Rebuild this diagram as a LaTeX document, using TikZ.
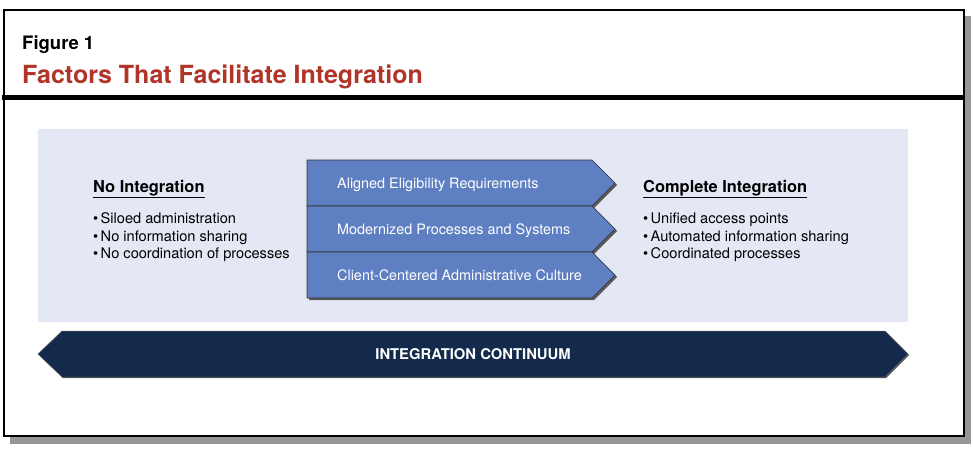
\documentclass[tikz,border=0pt]{standalone}
\usepackage{fontspec}
\setmainfont{TeX Gyre Heros}
\definecolor{titlered}{RGB}{176,52,40}
\definecolor{panelblue}{RGB}{228,232,244}
\definecolor{chevblue}{RGB}{94,127,193}
\definecolor{navy}{RGB}{19,42,76}
\definecolor{shadowgray}{RGB}{150,150,150}
\tikzset{
  txt/.style={anchor=base west, inner sep=0pt, font=\fontsize{14.6}{17}\selectfont},
  headtxt/.style={anchor=base west, inner sep=0pt, font=\bfseries\fontsize{16.4}{19}\selectfont},
  chevtxt/.style={anchor=base west, inner sep=0pt, text=white, font=\fontsize{14.4}{16}\selectfont},
  chev/.style={fill=chevblue, draw=black!80, line width=0.6pt},
  chevshadow/.style={fill=black!65},
}
\begin{document}
\begin{tikzpicture}[x=1pt,y=-1pt]
\useasboundingbox (0,0) rectangle (973,453);
% frame
\fill[shadowgray] (10,16) rectangle (971,444);
\draw[fill=white, line width=1.5pt] (4,10) rectangle (964,436);
\draw[line width=4.5pt] (2,97.5) -- (964,97.5);
% titles
\node[anchor=base west, inner sep=0pt, font=\bfseries\fontsize{18.5}{20}\selectfont] (fig) at (22,49) {Figure 1};
\node[anchor=base west, inner sep=0pt, text=titlered, font=\bfseries\fontsize{25}{28}\selectfont] (title) at (22,83) {Factors That Facilitate Integration};
% panel
\fill[panelblue] (38,129) rectangle (908,322);
% chevron shadows
\foreach \t in {160,206,252}{
  \fill[chevshadow] (309,\t+2) -- (594,\t+2) -- (617,\t+25) -- (594,\t+48) -- (309,\t+48) -- cycle;
}
% chevrons
\foreach \t in {160,206,252}{
  \draw[chev] (307,\t) -- (592,\t) -- (615,\t+23) -- (592,\t+46) -- (307,\t+46) -- cycle;
}
\node[chevtxt] (c1) at (337,188) {Aligned Eligibility Requirements};
\node[chevtxt] (c2) at (337,234) {Modernized Processes and Systems};
\node[chevtxt] (c3) at (337,280) {Client-Centered Administrative Culture};
% left text
\node[headtxt] (noint) at (93,192) {\underline{No Integration}};
\node[txt] (l1) at (93,223) {\textbullet\,Siloed administration};
\node[txt] (l2) at (93,241) {\textbullet\,No information sharing};
\node[txt] (l3) at (93,258.5) {\textbullet\,No coordination of processes};
% right text
\node[headtxt] (compint) at (643,192) {\underline{Complete Integration}};
\node[txt] (r1) at (643,223) {\textbullet\,Unified access points};
\node[txt] (r2) at (643,241) {\textbullet\,Automated information sharing};
\node[txt] (r3) at (643,258.5) {\textbullet\,Coordinated processes};
% continuum arrow
\fill[black!70] (39,355) -- (63,332) -- (886,332) -- (909,355) -- (886,378) -- (63,378) -- cycle;
\draw[fill=navy, draw=black!60, line width=0.5pt] (38,354) -- (62,331) -- (885,331) -- (908,354) -- (885,377) -- (62,377) -- cycle;
\node[anchor=base, inner sep=0pt, text=white, font=\bfseries\fontsize{14.8}{17}\selectfont] (cont) at (473,359) {INTEGRATION CONTINUUM};
\end{tikzpicture}
\end{document}
